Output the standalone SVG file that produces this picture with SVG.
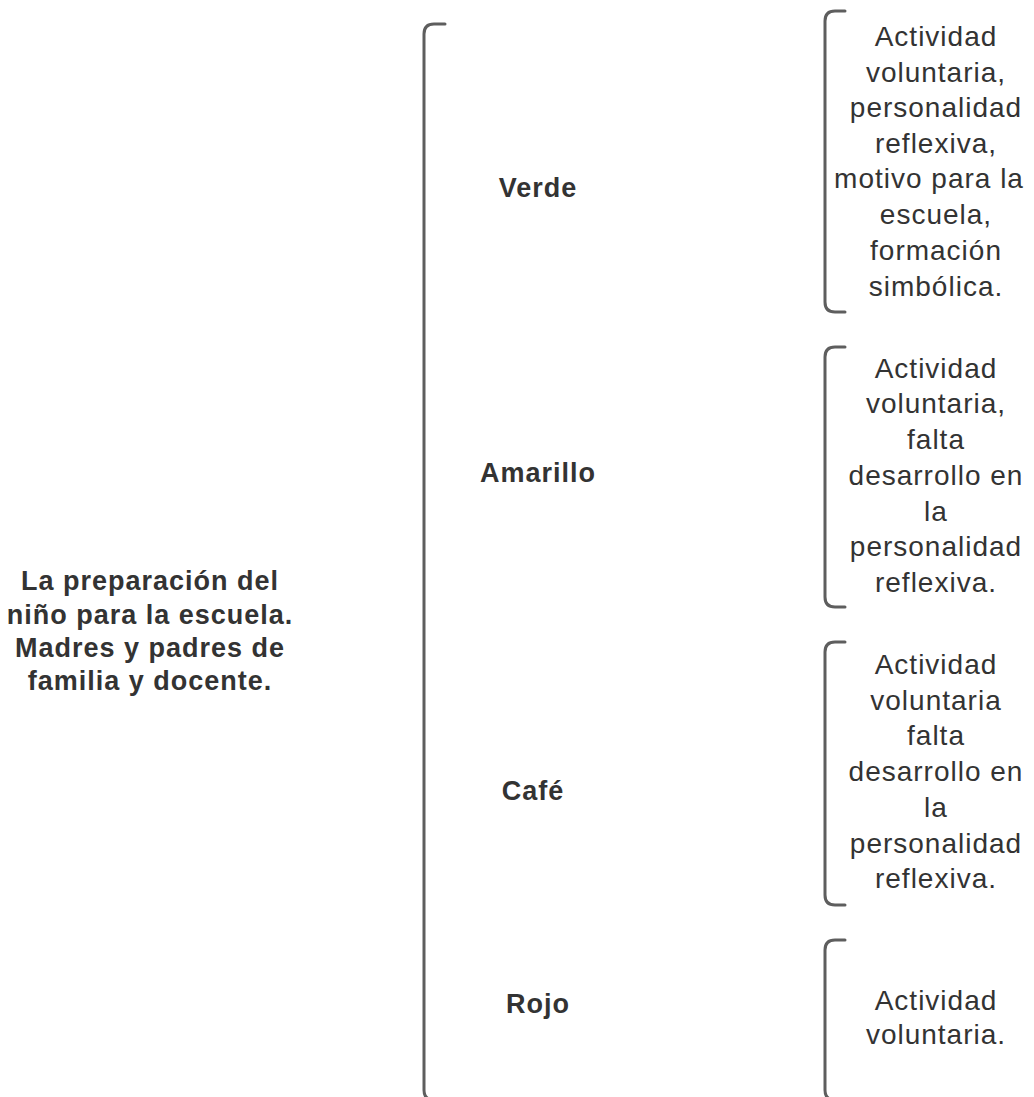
<svg xmlns="http://www.w3.org/2000/svg" width="1034" height="1097" viewBox="0 0 1034 1097">
<style>
.t{font-family:"Liberation Sans",Arial,sans-serif;fill:#333;text-anchor:middle;letter-spacing:1px}
.b{font-weight:bold;font-size:27px}
.r{font-size:28px}
.br{fill:none;stroke:#5e5e5e;stroke-width:3;stroke-linecap:round}
</style>
<rect width="1034" height="1097" fill="#fff"/>
<g id="connectors">
<path class="br" d="M445,24 H434 Q424,24 424,34 V1090 Q424,1100 434,1100"/>
<path class="br" d="M845,11 H835 Q825,11 825,21 V302 Q825,312 835,312 H845"/>
<path class="br" d="M845,347 H835 Q825,347 825,357 V597 Q825,607 835,607 H845"/>
<path class="br" d="M845,642 H835 Q825,642 825,652 V895 Q825,905 835,905 H845"/>
<path class="br" d="M845,940 H835 Q825,940 825,950 V1090 Q825,1100 835,1100 H845"/>
</g>
<g id="root">
<text class="t b" x="150" y="590">La preparación del</text>
<text class="t b" x="150" y="624">niño para la escuela.</text>
<text class="t b" x="150" y="657">Madres y padres de</text>
<text class="t b" x="150" y="690">familia y docente.</text>
</g>
<g id="verde"><text class="t b" x="538" y="197">Verde</text></g>
<g id="amarillo"><text class="t b" x="538" y="482">Amarillo</text></g>
<g id="cafe"><text class="t b" x="533" y="800">Café</text></g>
<g id="rojo"><text class="t b" x="538" y="1013">Rojo</text></g>
<g id="desc-verde">
<text class="t r" x="936" y="46">Actividad</text>
<text class="t r" x="936" y="82">voluntaria,</text>
<text class="t r" x="936" y="117">personalidad</text>
<text class="t r" x="936" y="153">reflexiva,</text>
<text class="t r" x="929" y="188">motivo para la</text>
<text class="t r" x="936" y="224">escuela,</text>
<text class="t r" x="936" y="260">formación</text>
<text class="t r" x="936" y="296">simbólica.</text>
</g>
<g id="desc-amarillo">
<text class="t r" x="936" y="378">Actividad</text>
<text class="t r" x="936" y="413">voluntaria,</text>
<text class="t r" x="936" y="449">falta</text>
<text class="t r" x="936" y="485">desarrollo en</text>
<text class="t r" x="936" y="521">la</text>
<text class="t r" x="936" y="556">personalidad</text>
<text class="t r" x="936" y="592">reflexiva.</text>
</g>
<g id="desc-cafe">
<text class="t r" x="936" y="674">Actividad</text>
<text class="t r" x="936" y="710">voluntaria</text>
<text class="t r" x="936" y="745">falta</text>
<text class="t r" x="936" y="781">desarrollo en</text>
<text class="t r" x="936" y="817">la</text>
<text class="t r" x="936" y="853">personalidad</text>
<text class="t r" x="936" y="888">reflexiva.</text>
</g>
<g id="desc-rojo">
<text class="t r" x="936" y="1010">Actividad</text>
<text class="t r" x="936" y="1044">voluntaria.</text>
</g>
</svg>
